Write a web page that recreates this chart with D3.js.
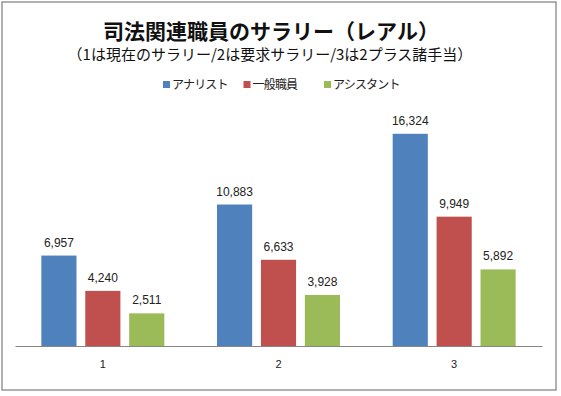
<!DOCTYPE html>
<html><head><meta charset="utf-8">
<script src="https://cdn.jsdelivr.net/npm/d3@7"></script>
<style>body{margin:0;background:#fff}svg{display:block}</style>
</head><body>
<script>
const categories = ["1", "2", "3"];
const seriesNames = ["アナリスト", "一般職員", "アシスタント"];
const analyst = [6957, 10883, 16324];
const staff = [4240, 6633, 9949];
const assistant = [2511, 3928, 5892];
const seriesValues = [analyst, staff, assistant];
const colors = ["#4F81BD", "#C0504D", "#9BBB59"];
const title = "司法関連職員のサラリー（レアル）";
const subtitle = "（1は現在のサラリー/2は要求サラリー/3は2プラス諸手当）";

const W = 561, H = 396;
const svg = d3.select("body").append("svg").attr("width", W).attr("height", H);
svg.append("rect").attr("x", 2).attr("y", 2).attr("width", 554).attr("height", 388)
  .attr("fill", "#fff").attr("stroke", "#878787").attr("stroke-width", 1.3);

const x0 = d3.scaleBand().domain(categories).range([15, 542]).paddingInner(0.3).paddingOuter(0.15);
const x1 = d3.scaleBand().domain(d3.range(seriesNames.length)).range([0, x0.bandwidth()]).paddingInner(0.2).paddingOuter(0);
const y = d3.scaleLinear().domain([0, 18000]).range([346, 112]);
const fmt = d3.format(",");

const groups = svg.selectAll("g.grp").data(categories).join("g")
  .attr("transform", d => `translate(${x0(d)},0)`);
groups.each(function(cat, ci) {
  const g = d3.select(this);
  seriesValues.forEach((vals, si) => {
    const v = vals[ci];
    g.append("rect").attr("x", x1(si)).attr("y", y(v))
      .attr("width", x1.bandwidth()).attr("height", y(0) - y(v)).attr("fill", colors[si]);
    g.append("text").attr("x", x1(si) + x1.bandwidth() / 2).attr("y", y(v) - 9)
      .attr("text-anchor", "middle").attr("font-family", "Liberation Sans, Arial, sans-serif")
      .attr("font-size", 12).attr("fill", "#222").text(fmt(v));
  });
});

// x axis
const xAxis = d3.axisBottom(x0).tickSize(0).tickPadding(14);
const ax = svg.append("g").attr("transform", `translate(0,${y(0)})`).call(xAxis);
ax.select(".domain").attr("stroke", "#868686").attr("stroke-width", 1);
ax.selectAll("text").attr("font-family", "Liberation Sans, Arial, sans-serif").attr("font-size", 11).attr("fill", "#222")
  .attr("dy", "0.71em");

// titles
svg.append("text").attr("x", 271).attr("y", 39).attr("text-anchor", "middle")
  .attr("font-family", "Noto Sans CJK JP").attr("font-weight", "bold").attr("font-size", 21)
  .attr("fill", "#111").text(title);
svg.append("text").attr("x", 270).attr("y", 60).attr("text-anchor", "middle")
  .attr("font-family", "Noto Sans CJK JP").attr("font-size", 15)
  .attr("fill", "#111").text(subtitle);

// legend
const lg = svg.selectAll("g.lg").data(seriesNames).join("g")
  .attr("transform", (d, i) => `translate(${163 + i * 80.5},0)`);
lg.append("rect").attr("x", 0).attr("y", 81).attr("width", 7).attr("height", 7).attr("fill", (d, i) => colors[i]);
lg.append("text").attr("x", 9).attr("y", 89).attr("font-family", "Noto Sans CJK JP").attr("font-size", 12)
  .attr("letter-spacing", -0.8).attr("fill", "#222").text(d => d);
</script>
</body></html>
